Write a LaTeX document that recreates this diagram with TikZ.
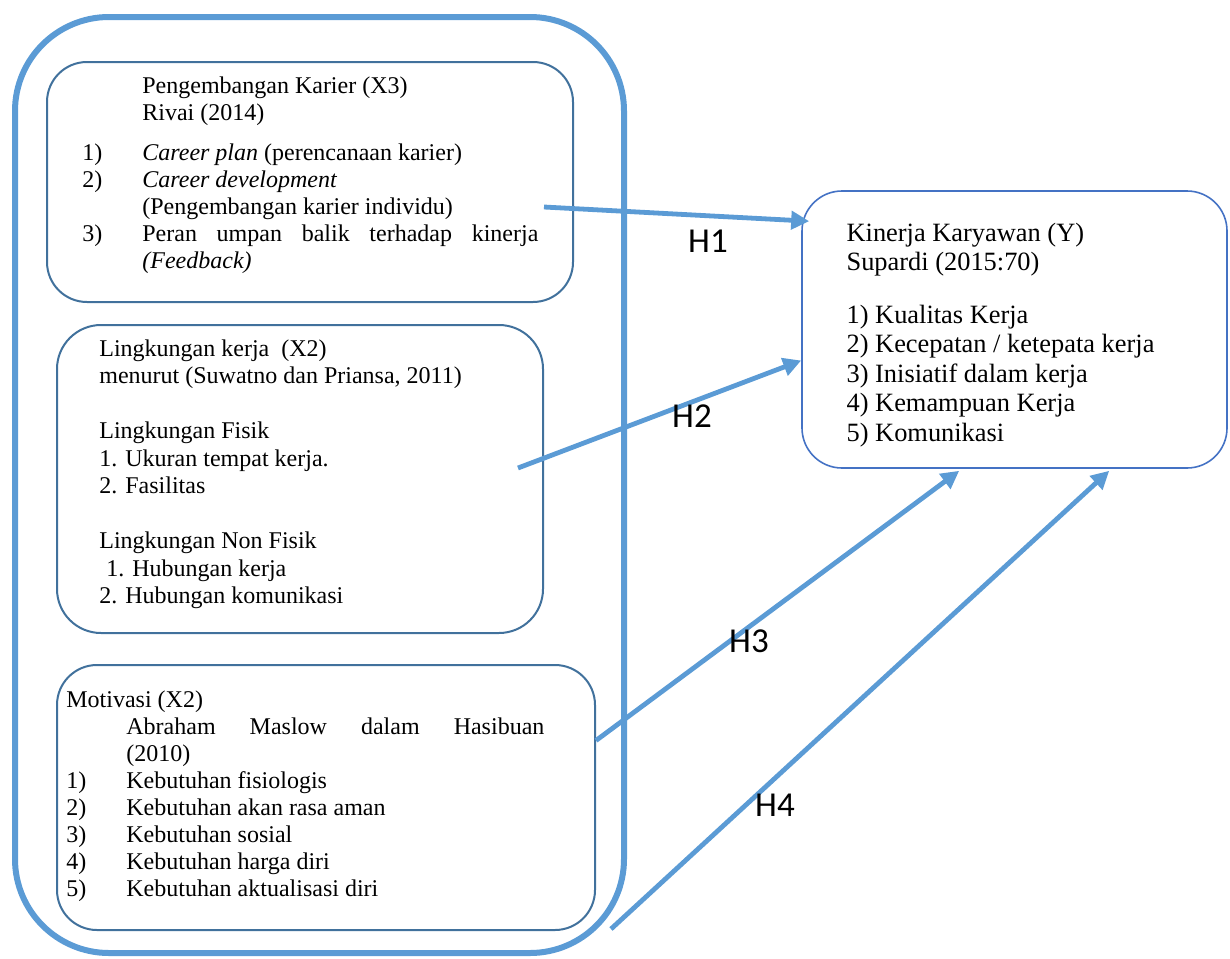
\documentclass[tikz,border=0pt]{standalone}
\usepackage{fontspec}
\setmainfont{Liberation Serif}
\newfontfamily\labelfont{Carlito}
\usetikzlibrary{positioning,arrows.meta}
\definecolor{lineblue}{HTML}{5B9BD5}
\definecolor{boxblue}{HTML}{41719C}
\definecolor{kinerjablue}{HTML}{4472C4}
\newcommand{\numitem}[1]{\makebox[30pt][l]{#1}}

\begin{document}
\begin{tikzpicture}[
    x=0.5pt,y=-0.5pt,
    outerbox/.style={%
      draw=lineblue,
      line width=3pt,
      rounded corners=47pt,
      rectangle,
      inner sep=0pt,
    },
    varbox/.style={%
      draw=boxblue,
      line width=1pt,
      rounded corners=20pt,
      rectangle,
      inner sep=0pt,
    },
    txt/.style={%
      anchor=base west,
      inner sep=0pt,
      font=\fontsize{12}{13.5}\selectfont,
    },
    hyp/.style={%
      draw=lineblue,
      line width=2.4pt,
      -{Triangle[length=9pt,width=9pt]},
    },
    hlabel/.style={%
      font=\labelfont\fontsize{17.5}{20}\selectfont,
    },
  ]

    \useasboundingbox (0,0) rectangle (1230,958);

    \node [outerbox, minimum width=304.5pt, minimum height=468pt] (outer) at (319.5,485) {};
    \node [varbox, minimum width=263pt, minimum height=120pt] (karier) at (310,182) {};
    \node [varbox, rounded corners=22pt, minimum width=243pt, minimum height=154pt] (lingkungan) at (300,479) {};
    \node [varbox, minimum width=269pt, minimum height=132.5pt] (motivasi) at (326,797.5) {};
    \node [varbox, draw=kinerjablue, line width=0.8pt, minimum width=212.5pt, minimum height=138.5pt] (kinerja) at (1014.5,329.5) {};

    \node [txt] (kariertext) at ([shift={(36,32)}]karier.north west) {\parbox[t]{240pt}{%
      \hspace*{30pt}Pengembangan Karier (X3)\\
      \hspace*{30pt}Rivai (2014)\\[6.5pt]
      \numitem{1)}\textit{Career plan} (perencanaan karier)\\
      \numitem{2)}\textit{Career development}\\
      \hspace*{30pt}(Pengembangan karier individu)\\
      \numitem{3)}\makebox[198pt][l]{Peran\hfill umpan\hfill balik\hfill terhadap\hfill kinerja}\\
      \hspace*{30pt}\textit{(Feedback)}}};
    \node [txt, font=\fontsize{12}{13.75}\selectfont] (lingkungantext) at ([shift={(43,32)}]lingkungan.north west) {\parbox[t]{220pt}{%
      Lingkungan kerja\ \ (X2)\\
      menurut (Suwatno dan Priansa, 2011)\\[13.75pt]
      Lingkungan Fisik\\
      1. Ukuran tempat kerja.\\
      2. Fasilitas\\[13.75pt]
      Lingkungan Non Fisik\\
      \hspace*{3.5pt}1. Hubungan kerja\\
      2. Hubungan komunikasi}};
    \node [txt] (motivasitext) at ([shift={(10,43)}]motivasi.north west) {\parbox[t]{250pt}{%
      Motivasi (X2)\\
      \hspace*{30pt}\makebox[209pt][l]{Abraham\hfill Maslow\hfill dalam\hfill Hasibuan}\\
      \hspace*{30pt}(2010)\\
      \numitem{1)}Kebutuhan fisiologis\\
      \numitem{2)}Kebutuhan akan rasa aman\\
      \numitem{3)}Kebutuhan sosial\\
      \numitem{4)}Kebutuhan harga diri\\
      \numitem{5)}Kebutuhan aktualisasi diri}};
    \node [txt, font=\fontsize{13.2}{14.75}\selectfont] (kinerjatext) at ([shift={(45,51)}]kinerja.north west) {\parbox[t]{190pt}{%
      Kinerja Karyawan (Y)\\
      Supardi (2015:70)\\[11.5pt]
      1) Kualitas Kerja\\
      2) Kecepatan / ketepata kerja\\
      3) Inisiatif dalam kerja\\
      4) Kemampuan Kerja\\
      5) Komunikasi}};

    \coordinate (h1start) at ([shift={(-30,25)}]karier.east);
    \coordinate (h2start) at ([shift={(-26,-11)}]lingkungan.east);
    \coordinate (h3start) at ([shift={(0,-57)}]motivasi.east);
    \coordinate (h4start) at ([shift={(15,-2)}]motivasi.south east);

    \draw [hyp] (h1start) -- ([shift={(8,31)}]kinerja.north west);
    \draw [hyp] (h2start) -- ([shift={(0,31)}]kinerja.west);
    \draw [hyp] (h3start) -- ([shift={(158,2)}]kinerja.south west);
    \draw [hyp] (h4start) -- ([shift={(308,2)}]kinerja.south west);

    \node [hlabel] (h1) at (708,241) {H1};
    \node [hlabel] (h2) at (692,416) {H2};
    \node [hlabel] (h3) at (749,641) {H3};
    \node [hlabel] (h4) at (775,805) {H4};
    \end{tikzpicture}
\end{document}
